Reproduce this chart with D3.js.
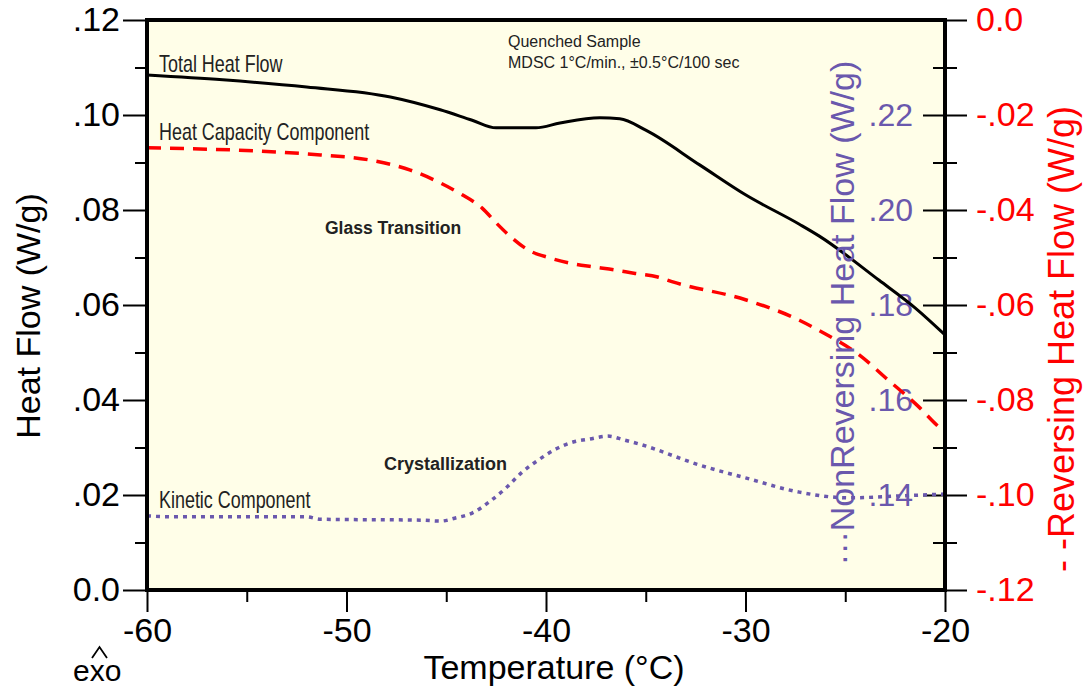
<!DOCTYPE html>
<html>
<head>
<meta charset="utf-8">
<script src="https://cdn.jsdelivr.net/npm/d3@7"></script>
<style>
  body { margin: 0; background: #fff; }
  text { font-family: "Liberation Sans", Arial, Helvetica, sans-serif; }
</style>
</head>
<body>
<div id="chart"></div>
<script>
// values
const totalTemp = [-60, -56.2, -52, -47.8, -45.3, -43.7, -42.5, -40.5, -39.3, -37.3, -36.3, -35, -32.3, -30, -27.3, -26.3, -23.3, -21.5, -20];
const totalFlow = [0.1084, 0.1074, 0.1059, 0.1038, 0.1011, 0.0989, 0.0973, 0.0973, 0.0983, 0.0994, 0.0992, 0.0968, 0.0895, 0.0832, 0.0770, 0.0745, 0.0652, 0.0594, 0.0537];

const revTemp = [-60, -51.3, -48.8, -46.8, -45.3, -44.2, -43.2, -42.5, -41.7, -40.9, -39.8, -38.8, -37.6, -36.6, -35.6, -34.4, -33.6, -30, -27.3, -26.3, -24.3, -22.9, -21.3, -20.3, -20];
const revFlow = [-0.0269, -0.0284, -0.0295, -0.0316, -0.0343, -0.0368, -0.0396, -0.0427, -0.0459, -0.0484, -0.0501, -0.0512, -0.0520, -0.0526, -0.0533, -0.0541, -0.0552, -0.0589, -0.0632, -0.0654, -0.0705, -0.0756, -0.0815, -0.0857, -0.0867];

const kinTemp = [-60, -58.7, -52, -51.3, -46.2, -45.3, -44.5, -43.7, -42.8, -42, -41.2, -40.3, -39.4, -38.6, -37.8, -36.9, -36.1, -35.3, -32.3, -30, -27.3, -24.8, -22.3, -20];
const kinFlow = [0.1356, 0.1354, 0.1354, 0.1349, 0.1347, 0.1345, 0.1352, 0.1362, 0.1387, 0.1415, 0.1448, 0.1476, 0.1499, 0.1512, 0.1518, 0.1524, 0.1516, 0.1507, 0.1463, 0.1436, 0.1406, 0.1394, 0.1398, 0.1402];

const xTicks = [-60, -50, -40, -30, -20];
const xMinor = [-55, -45, -35, -25];
const leftTicks = [0, 0.02, 0.04, 0.06, 0.08, 0.10, 0.12];
const leftMinor = [0.01, 0.03, 0.05, 0.07, 0.09, 0.11];
const rightTicks = [-0.12, -0.10, -0.08, -0.06, -0.04, -0.02, 0];
const rightMinor = [-0.11, -0.09, -0.07, -0.05, -0.03, -0.01];
const nonRevTicks = [0.14, 0.16, 0.18, 0.20, 0.22];

const margin = {top: 20, right: 140, bottom: 100, left: 147},
  width = 1085 - margin.left - margin.right,
  height = 690 - margin.top - margin.bottom;

const purple = "#6a58ad";

const svg = d3.select("#chart")
  .append("svg")
  .attr("width", 1085)
  .attr("height", 690);

const g = svg.append("g")
  .attr("transform", `translate(${margin.left},${margin.top})`);

const x = d3.scaleLinear().domain([-60, -20]).range([0, width]);
const yLeft = d3.scaleLinear().domain([0, 0.12]).range([height, 0]);
const yRight = d3.scaleLinear().domain([-0.12, 0]).range([height, 0]);
const yNon = d3.scaleLinear().domain([0.12, 0.24]).range([height, 0]);

// plot background
g.append("rect")
  .attr("width", width)
  .attr("height", height)
  .attr("fill", "#fffee8");

const leftFmt = d => d === 0 ? "0.0" : d3.format(".2f")(d).replace("0.", ".");
const rightFmt = d => d === 0 ? "0.0" : d3.format(".2f")(d).replace("0.", ".").replace("−", "-");

function styleAxis(sel, color, size) {
  sel.select(".domain").remove();
  sel.selectAll("line").attr("stroke", "#000").attr("stroke-width", 2);
  sel.selectAll("text").attr("fill", color).style("font-size", size + "px");
}

// left axis
g.append("g")
  .call(d3.axisLeft(yLeft).tickValues(leftMinor).tickSize(12).tickFormat(""))
  .call(s => styleAxis(s, "#000", 34));
g.append("g")
  .call(d3.axisLeft(yLeft).tickValues(leftTicks).tickSize(24).tickPadding(3).tickFormat(leftFmt))
  .call(s => styleAxis(s, "#000", 34));

// bottom axis
g.append("g")
  .attr("transform", `translate(0,${height})`)
  .call(d3.axisBottom(x).tickValues(xMinor).tickSize(12).tickFormat(""))
  .call(s => styleAxis(s, "#000", 34));
g.append("g")
  .attr("transform", `translate(0,${height})`)
  .call(d3.axisBottom(x).tickValues(xTicks).tickSize(22).tickPadding(6).tickFormat(d => String(d)))
  .call(s => styleAxis(s, "#000", 34));

// right axis (reversing), ticks cross the frame
g.append("g")
  .attr("transform", `translate(${width},0)`)
  .call(d3.axisRight(yRight).tickValues(rightMinor).tickSize(12).tickFormat(""))
  .call(s => styleAxis(s, "red", 34))
  .call(s => s.selectAll("line").attr("x1", -12));
g.append("g")
  .attr("transform", `translate(${width},0)`)
  .call(d3.axisRight(yRight).tickValues(rightTicks).tickSize(22).tickPadding(9).tickFormat(rightFmt))
  .call(s => styleAxis(s, "red", 34))
  .call(s => s.selectAll("line").attr("x1", -22));

// non-reversing labels inside the frame
g.append("g")
  .attr("transform", `translate(${width},0)`)
  .call(d3.axisLeft(yNon).tickValues(nonRevTicks).tickSize(0).tickPadding(32).tickFormat(d => d3.format(".2f")(d).replace("0.", ".")))
  .call(s => styleAxis(s, purple, 32))
  .call(s => s.selectAll("line").remove());

// curves
const lineTotal = d3.line()
  .x((d, i) => x(totalTemp[i]))
  .y(d => yLeft(d))
  .curve(d3.curveMonotoneX);
const lineRev = d3.line()
  .x((d, i) => x(revTemp[i]))
  .y(d => yRight(d))
  .curve(d3.curveMonotoneX);
const lineKin = d3.line()
  .x((d, i) => x(kinTemp[i]))
  .y(d => yNon(d))
  .curve(d3.curveMonotoneX);

g.append("path")
  .datum(kinFlow)
  .attr("d", lineKin)
  .attr("fill", "none")
  .attr("stroke", purple)
  .attr("stroke-width", 3.5)
  .attr("stroke-dasharray", "4,5");

g.append("path")
  .datum(revFlow)
  .attr("d", lineRev)
  .attr("fill", "none")
  .attr("stroke", "red")
  .attr("stroke-width", 3.5)
  .attr("stroke-dasharray", "14,9");

g.append("path")
  .datum(totalFlow)
  .attr("d", lineTotal)
  .attr("fill", "none")
  .attr("stroke", "#000")
  .attr("stroke-width", 3);

// frame
g.append("rect")
  .attr("width", width)
  .attr("height", height)
  .attr("fill", "none")
  .attr("stroke", "#000")
  .attr("stroke-width", 4);

// annotations (narrow face)
function narrow(tx, ty, txt) {
  g.append("g")
    .attr("transform", `translate(${tx},${ty}) scale(0.78,1)`)
    .append("text")
    .attr("fill", "#222")
    .style("font-size", "23px")
    .text(txt);
}
narrow(12, 52, "Total Heat Flow");
narrow(12, 120, "Heat Capacity Component");
narrow(12, 488, "Kinetic Component");

g.append("text")
  .attr("x", 178).attr("y", 214)
  .attr("fill", "#222")
  .style("font-size", "17.5px").style("font-weight", "bold")
  .text("Glass Transition");
g.append("text")
  .attr("x", 237).attr("y", 450)
  .attr("fill", "#222")
  .style("font-size", "18px").style("font-weight", "bold")
  .text("Crystallization");

g.append("text")
  .attr("x", 361).attr("y", 27)
  .attr("fill", "#222")
  .style("font-size", "16px")
  .text("Quenched Sample");
g.append("text")
  .attr("x", 361).attr("y", 48)
  .attr("fill", "#222")
  .style("font-size", "16px")
  .text("MDSC 1°C/min., ±0.5°C/100 sec");

// axis titles
svg.append("text")
  .attr("transform", "translate(40,316) rotate(-90)")
  .attr("text-anchor", "middle")
  .style("font-size", "34px")
  .text("Heat Flow (W/g)");

svg.append("text")
  .attr("x", 554).attr("y", 679)
  .attr("text-anchor", "middle")
  .style("font-size", "34px")
  .text("Temperature (°C)");

svg.append("text")
  .attr("transform", "translate(1074,339) rotate(-90)")
  .attr("text-anchor", "middle")
  .attr("fill", "red")
  .style("font-size", "36px")
  .text("- -Reversing Heat Flow (W/g)");

svg.append("text")
  .attr("transform", "translate(854,313) rotate(-90)")
  .attr("text-anchor", "middle")
  .attr("fill", purple)
  .style("font-size", "34px")
  .text("···NonReversing Heat Flow (W/g)");

// exo marker
svg.append("text")
  .attr("x", 73).attr("y", 681)
  .style("font-size", "30px")
  .text("exo");
svg.append("path")
  .attr("d", "M92,658 L99.5,647 L107,658")
  .attr("fill", "none")
  .attr("stroke", "#000")
  .attr("stroke-width", 1.8);
</script>
</body>
</html>
